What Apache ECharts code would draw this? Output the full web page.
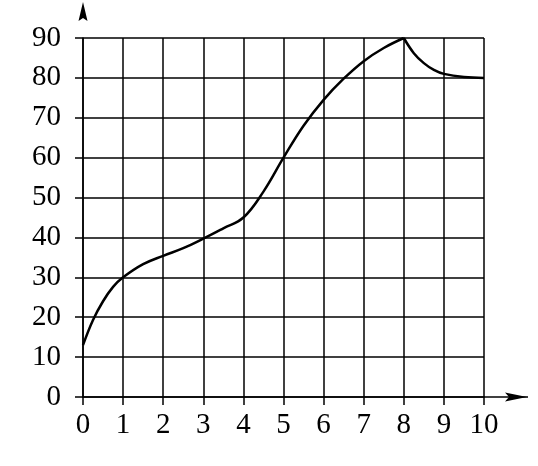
<!DOCTYPE html>
<html>
<head>
<meta charset="utf-8">
<script src="https://cdn.jsdelivr.net/npm/echarts@6/dist/echarts.min.js"></script>
<style>
  html, body { margin: 0; padding: 0; background: #fff; }
  #container { width: 538px; height: 466px; }
</style>
</head>
<body>
<div id="container"></div>
<script>
// rising part, up to the peak at x = 8
var xRise = [0, 0.25, 0.5, 0.75, 1, 1.5, 2, 2.5, 3, 3.5, 4, 4.5, 5, 5.5, 6, 6.5, 7, 7.5, 8];
var yRise = [13, 19.3, 24, 27.6, 30, 33.3, 35.4, 37.3, 39.7, 42.3, 45, 51.5, 60, 68, 74.5, 79.8, 84.2, 87.5, 90];
// falling part after the peak
var xFall = [8, 8.25, 8.5, 8.75, 9, 9.5, 10];
var yFall = [90, 86.2, 83.7, 82, 81, 80.2, 80];

function pairs(xs, ys) {
    var out = [];
    for (var i = 0; i < xs.length; i++) {
        out.push([xs[i], ys[i]]);
    }
    return out;
}

var dom = document.getElementById('container');
var myChart = echarts.init(dom);
var labelFont = {
    color: '#000',
    fontFamily: '"Liberation Serif", "Times New Roman", serif',
    fontSize: 29
};
var gridLine = { color: '#000', width: 1.5 };

var option = {
    animation: false,
    grid: { left: 83, right: 54, top: 38, bottom: 69 },
    xAxis: {
        type: 'value',
        min: 0,
        max: 10,
        interval: 1,
        axisLine: { lineStyle: gridLine },
        axisTick: { show: true, length: 8, lineStyle: gridLine },
        splitLine: { show: true, lineStyle: gridLine },
        axisLabel: Object.assign({ margin: 14 }, labelFont)
    },
    yAxis: {
        type: 'value',
        min: 0,
        max: 90,
        interval: 10,
        axisLine: { show: true, lineStyle: gridLine },
        axisTick: { show: true, length: 8, lineStyle: gridLine },
        splitLine: { show: true, lineStyle: gridLine },
        axisLabel: Object.assign({ margin: 22 }, labelFont)
    },
    series: [
        {
            type: 'line',
            data: pairs(xRise, yRise),
            smooth: 0.4,
            showSymbol: false,
            lineStyle: { color: '#000', width: 2.5 }
        },
        {
            type: 'line',
            data: pairs(xFall, yFall),
            smooth: 0.4,
            showSymbol: false,
            lineStyle: { color: '#000', width: 2.5 }
        }
    ]
};
myChart.setOption(option);

// axis arrows beyond the grid
var o = myChart.convertToPixel({ gridIndex: 0 }, [0, 0]);
var top = myChart.convertToPixel({ gridIndex: 0 }, [0, 90]);
var right = myChart.convertToPixel({ gridIndex: 0 }, [10, 0]);
myChart.setOption({
    graphic: [
        { type: 'line', shape: { x1: o[0], y1: top[1], x2: o[0], y2: 1 }, style: { stroke: '#000', lineWidth: 1.5 } },
        { type: 'polygon', shape: { points: [[o[0], 2], [o[0] - 4.5, 21], [o[0], 18], [o[0] + 4.5, 21]] }, style: { fill: '#000' } },
        { type: 'line', shape: { x1: right[0], y1: o[1], x2: 528, y2: o[1] }, style: { stroke: '#000', lineWidth: 1.5 } },
        { type: 'polygon', shape: { points: [[527, o[1]], [505, o[1] - 4.5], [509, o[1]], [505, o[1] + 4.5]] }, style: { fill: '#000' } }
    ]
});
</script>
</body>
</html>
